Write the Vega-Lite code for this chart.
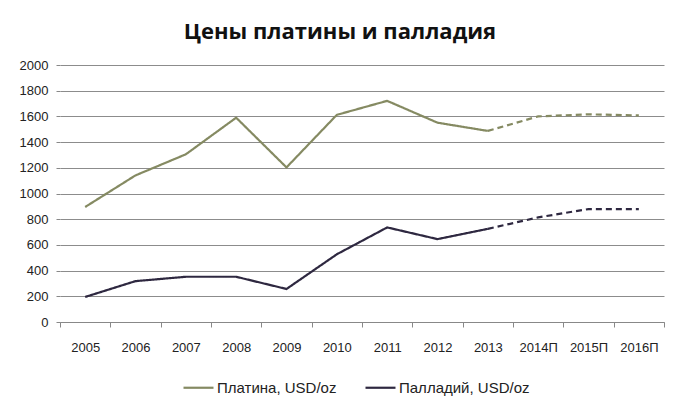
{
  "$schema": "https://vega.github.io/schema/vega-lite/v6.json",
  "autosize": "none",
  "width": 604,
  "height": 257,
  "padding": {"left": 60, "top": 65, "right": 17, "bottom": 88},
  "background": "white",
  "title": {
    "text": "Цены платины и палладия",
    "font": "Open Sans",
    "fontSize": 22,
    "fontWeight": "bold",
    "color": "#111111",
    "anchor": "middle",
    "dx": -22,
    "offset": 15
  },
  "data": {
    "values": [
      {"year": "2005", "series": "Платина, USD/oz", "phase": "fact", "value": 895},
      {"year": "2006", "series": "Платина, USD/oz", "phase": "fact", "value": 1141},
      {"year": "2007", "series": "Платина, USD/oz", "phase": "fact", "value": 1305},
      {"year": "2008", "series": "Платина, USD/oz", "phase": "fact", "value": 1590},
      {"year": "2009", "series": "Платина, USD/oz", "phase": "fact", "value": 1203},
      {"year": "2010", "series": "Платина, USD/oz", "phase": "fact", "value": 1612},
      {"year": "2011", "series": "Платина, USD/oz", "phase": "fact", "value": 1721},
      {"year": "2012", "series": "Платина, USD/oz", "phase": "fact", "value": 1551},
      {"year": "2013", "series": "Платина, USD/oz", "phase": "fact", "value": 1487},
      {"year": "2013", "series": "Платина, USD/oz", "phase": "forecast", "value": 1487},
      {"year": "2014П", "series": "Платина, USD/oz", "phase": "forecast", "value": 1600},
      {"year": "2015П", "series": "Платина, USD/oz", "phase": "forecast", "value": 1616},
      {"year": "2016П", "series": "Платина, USD/oz", "phase": "forecast", "value": 1608},
      {"year": "2005", "series": "Палладий, USD/oz", "phase": "fact", "value": 195},
      {"year": "2006", "series": "Палладий, USD/oz", "phase": "fact", "value": 318},
      {"year": "2007", "series": "Палладий, USD/oz", "phase": "fact", "value": 352},
      {"year": "2008", "series": "Палладий, USD/oz", "phase": "fact", "value": 352},
      {"year": "2009", "series": "Палладий, USD/oz", "phase": "fact", "value": 257},
      {"year": "2010", "series": "Палладий, USD/oz", "phase": "fact", "value": 527},
      {"year": "2011", "series": "Палладий, USD/oz", "phase": "fact", "value": 736},
      {"year": "2012", "series": "Палладий, USD/oz", "phase": "fact", "value": 645},
      {"year": "2013", "series": "Палладий, USD/oz", "phase": "fact", "value": 725},
      {"year": "2013", "series": "Палладий, USD/oz", "phase": "forecast", "value": 725},
      {"year": "2014П", "series": "Палладий, USD/oz", "phase": "forecast", "value": 814},
      {"year": "2015П", "series": "Палладий, USD/oz", "phase": "forecast", "value": 879},
      {"year": "2016П", "series": "Палладий, USD/oz", "phase": "forecast", "value": 879}
    ]
  },
  "mark": {"type": "line", "strokeWidth": 2.2},
  "encoding": {
    "x": {
      "field": "year",
      "type": "ordinal",
      "sort": null,
      "scale": {"type": "band", "paddingInner": 0, "paddingOuter": 0},
      "axis": {
        "title": null,
        "labelAngle": 0,
        "labelFont": "Liberation Sans",
        "labelFontSize": 13,
        "labelColor": "#222222",
        "labelPadding": 14,
        "domainColor": "#888888",
        "tickColor": "#888888",
        "tickSize": 5,
        "tickBand": "extent",
        "grid": false
      }
    },
    "y": {
      "field": "value",
      "type": "quantitative",
      "scale": {"domain": [0, 2000]},
      "axis": {
        "title": null,
        "format": "d",
        "values": [0, 200, 400, 600, 800, 1000, 1200, 1400, 1600, 1800, 2000],
        "labelFont": "Liberation Sans",
        "labelFontSize": 13,
        "labelColor": "#222222",
        "labelPadding": 8,
        "domain": false,
        "tickSize": 4,
        "tickColor": "#888888",
        "gridColor": "#8c8c8c",
        "gridWidth": 1
      }
    },
    "color": {
      "field": "series",
      "type": "nominal",
      "sort": ["Платина, USD/oz", "Палладий, USD/oz"],
      "scale": {"domain": ["Платина, USD/oz", "Палладий, USD/oz"], "range": ["#858a62", "#2e2840"]},
      "legend": {
        "title": null,
        "orient": "none",
        "direction": "horizontal",
        "legendX": 122,
        "legendY": 306,
        "symbolType": "stroke",
        "symbolSize": 900,
        "symbolStrokeWidth": 2.2,
        "labelFont": "Liberation Sans",
        "labelFontSize": 15,
        "labelColor": "#222222",
        "columnPadding": 24,
        "labelOffset": 2
      }
    },
    "strokeDash": {
      "field": "phase",
      "type": "nominal",
      "scale": {"domain": ["fact", "forecast"], "range": [[1, 0], [6, 4]]},
      "legend": null
    },
    "detail": {"field": "phase"}
  },
  "config": {"view": {"stroke": null}}
}
